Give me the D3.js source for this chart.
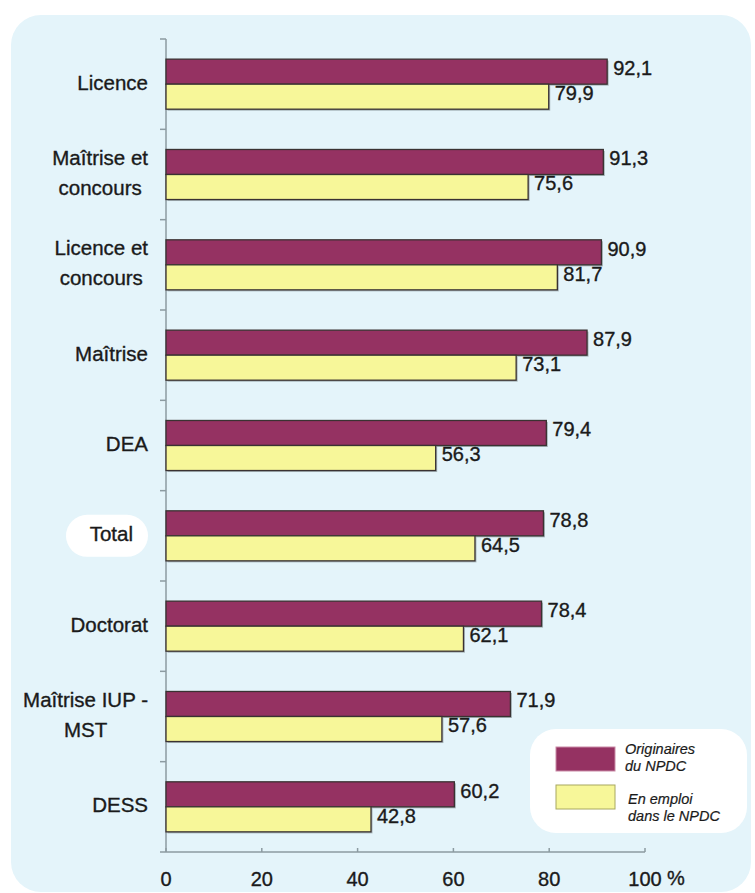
<!DOCTYPE html>
<html>
<head>
<meta charset="utf-8">
<script src="https://cdn.jsdelivr.net/npm/d3@7"></script>
<style>
  body { margin: 0; background: #fff; }
  svg { display: block; font-family: "Liberation Sans", Arial, sans-serif; }
  text { stroke: #1a1a1a; stroke-width: 0.35px; }
</style>
</head>
<body>
<div id="viz"></div>
<script>
// values
let categories = [
  ["Licence"],
  ["Maîtrise et", "concours"],
  ["Licence et", "concours"],
  ["Maîtrise"],
  ["DEA"],
  ["Total"],
  ["Doctorat"],
  ["Maîtrise IUP -", "MST"],
  ["DESS"]
];
let originaires = [92.1, 91.3, 90.9, 87.9, 79.4, 78.8, 78.4, 71.9, 60.2];
let enEmploi = [79.9, 75.6, 81.7, 73.1, 56.3, 64.5, 62.1, 57.6, 42.8];
let seriesNames = ["Originaires du NPDC", "En emploi dans le NPDC"];
let legendLines = [["Originaires", "du NPDC"], ["En emploi", "dans le NPDC"]];
let xTicks = [0, 20, 40, 60, 80, 100];

let width = 755;
let height = 893;
let colors = ["#953262", "#f7f799"];

createChart();

function fmt(v) {
  return v.toFixed(1).replace(".", ",");
}

function createChart() {
  const svg = d3.select("#viz").append("svg")
    .attr("width", width)
    .attr("height", height);

  // light blue panel
  svg.append("rect")
    .attr("x", 11).attr("y", 15)
    .attr("width", 740).attr("height", 877)
    .attr("rx", 30).attr("ry", 30)
    .attr("fill", "#e4f4fa");

  const top = 39, bottom = 852;
  const keys = categories.map((d, i) => i);

  const x = d3.scaleLinear().domain([0, 100]).range([166, 645]);
  const yIdx = d3.scaleLinear().domain([0, categories.length]).range([top, bottom]);
  const y0 = d3.scaleBand().domain(keys).range([top, bottom])
    .paddingInner(0.446).paddingOuter(0.223);
  const y1 = d3.scaleBand().domain([0, 1]).range([0, y0.bandwidth()]);

  // axes
  const axisColor = "#8c9ba1";
  svg.append("line")
    .attr("x1", x(0)).attr("x2", x(0))
    .attr("y1", top).attr("y2", bottom)
    .attr("stroke", axisColor).attr("stroke-width", 1.5);
  svg.append("line")
    .attr("x1", x(0) - 6).attr("x2", x(100))
    .attr("y1", bottom).attr("y2", bottom)
    .attr("stroke", axisColor).attr("stroke-width", 1.5);

  svg.selectAll(".ytick").data(d3.range(categories.length))
    .join("line")
    .attr("x1", x(0) - 6).attr("x2", x(0))
    .attr("y1", d => yIdx(d)).attr("y2", d => yIdx(d))
    .attr("stroke", axisColor).attr("stroke-width", 1.5);

  svg.selectAll(".xtick").data(xTicks)
    .join("line")
    .attr("x1", d => x(d)).attr("x2", d => x(d))
    .attr("y1", bottom - 4).attr("y2", bottom)
    .attr("stroke", axisColor).attr("stroke-width", 1.5);

  svg.selectAll(".xlabel").data(xTicks)
    .join("text")
    .attr("x", d => x(d))
    .attr("y", 881)
    .attr("text-anchor", "middle")
    .attr("dominant-baseline", "middle")
    .attr("font-size", 20)
    .attr("fill", "#1a1a1a")
    .text(d => d);
  svg.append("text")
    .attr("x", x(100) + 22)
    .attr("y", 880)
    .attr("dominant-baseline", "middle")
    .attr("font-size", 20)
    .attr("fill", "#1a1a1a")
    .text("%");

  // bars
  const rows = keys.map(i => ({i: i, vals: [originaires[i], enEmploi[i]]}));
  const group = svg.selectAll(".cat").data(rows)
    .join("g")
    .attr("transform", d => `translate(0,${y0(d.i)})`);

  const bar = group.selectAll("g").data(d => d.vals.map((v, s) => ({v: v, s: s})))
    .join("g");

  // soft shadow
  bar.append("rect")
    .attr("x", x(0) + 1.5)
    .attr("y", d => y1(d.s) + 1.5)
    .attr("width", d => x(d.v) - x(0))
    .attr("height", y1.bandwidth())
    .attr("fill", "#7d8a8e")
    .attr("opacity", 0.6);

  bar.append("rect")
    .attr("x", x(0))
    .attr("y", d => y1(d.s))
    .attr("width", d => x(d.v) - x(0))
    .attr("height", y1.bandwidth())
    .attr("fill", d => colors[d.s])
    .attr("stroke", "#3a3232")
    .attr("stroke-width", 1.3);

  bar.append("text")
    .attr("x", d => x(d.v) + 6)
    .attr("y", d => y1(d.s) + y1.bandwidth() / 2 - 2)
    .attr("dominant-baseline", "middle")
    .attr("font-size", 20)
    .attr("fill", "#1a1a1a")
    .text(d => fmt(d.v));

  // category labels
  const labelRight = 148;
  rows.forEach(d => {
    const lines = categories[d.i];
    const cy = y0(d.i) + y0.bandwidth() / 2;
    const g = svg.append("g");
    if (lines[0] === "Total") {
      g.append("rect")
        .attr("x", 66).attr("y", cy - 21)
        .attr("width", 82).attr("height", 42)
        .attr("rx", 21).attr("ry", 21)
        .attr("fill", "#fff");
    }
    const texts = g.selectAll("text").data(lines)
      .join("text")
      .attr("y", (t, k) => cy + (k - (lines.length - 1) / 2) * 30)
      .attr("dominant-baseline", "middle")
      .attr("text-anchor", "middle")
      .attr("font-size", 20.5)
      .attr("fill", "#1a1a1a")
      .text(t => t);
    let maxW = 0;
    texts.each(function() { maxW = Math.max(maxW, this.getComputedTextLength()); });
    const right = lines[0] === "Total" ? 133 : labelRight;
    texts.attr("x", right - maxW / 2);
  });

  // legend
  const legend = svg.append("g");
  legend.append("rect")
    .attr("x", 530).attr("y", 729)
    .attr("width", 217).attr("height", 104)
    .attr("rx", 26).attr("ry", 26)
    .attr("fill", "#fff")
    .style("stroke", "none");

  const item = legend.selectAll(".item").data(legendLines)
    .join("g")
    .attr("transform", (d, i) => `translate(556,${747 + i * 38})`);
  item.append("rect")
    .attr("width", 59).attr("height", 24)
    .attr("fill", (d, i) => colors[i])
    .attr("stroke", (d, i) => i === 0 ? "#c98aa6" : "#a8a860")
    .attr("stroke-width", 1);
  item.selectAll("text").data((d, i) => d.map(t => ({t: t, i: i})))
    .join("text")
    .attr("x", d => d.i === 0 ? 69 : 72)
    .attr("y", (d, k) => (d.i === 0 ? 3 : 15) + k * 17)
    .attr("dominant-baseline", "middle")
    .attr("font-size", 14.5)
    .attr("font-style", "italic")
    .attr("fill", "#1a1a1a")
    .style("stroke-width", "0.2px")
    .text(d => d.t);
  legend.append("title").text(seriesNames.join(" / "));
}
</script>
</body>
</html>
